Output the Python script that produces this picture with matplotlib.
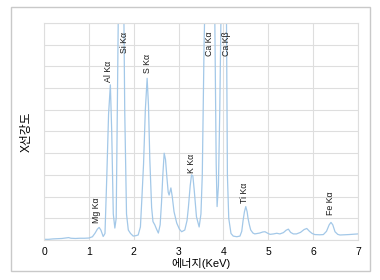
import matplotlib
matplotlib.use("Agg")
import matplotlib.pyplot as plt
from matplotlib.patches import Rectangle

plt.rcParams['font.family'] = ['Liberation Sans', 'Noto Sans CJK KR', 'DejaVu Sans']

# 스펙트럼 (에너지 keV, 강도 0~100 눈금 기준, 화면 밖 피크는 100 이상)
energy = [0.00, 0.10, 0.20, 0.30, 0.40, 0.50, 0.55, 0.60, 0.70, 0.80, 0.90, 1.00,
          1.08, 1.14, 1.19, 1.23, 1.27, 1.32, 1.36, 1.40, 1.44, 1.48, 1.51, 1.545,
          1.58, 1.61, 1.64, 1.67, 1.72, 1.77, 1.80, 1.84, 1.88, 1.93, 1.99, 2.05,
          2.10, 2.15, 2.18, 2.22, 2.26, 2.30, 2.33, 2.36, 2.40, 2.43, 2.47, 2.51,
          2.55, 2.59, 2.62, 2.65, 2.68, 2.71, 2.74, 2.77, 2.79, 2.83, 2.86, 2.90,
          2.96, 3.02, 3.07, 3.14, 3.19, 3.22, 3.26, 3.29, 3.32, 3.35, 3.40, 3.46,
          3.50, 3.53, 3.57, 3.62, 3.69, 3.76, 3.81, 3.84, 3.86, 3.89, 3.92, 3.95,
          4.01, 4.07, 4.09, 4.12, 4.17, 4.22, 4.30, 4.37, 4.41, 4.44, 4.47, 4.50,
          4.53, 4.55, 4.58, 4.61, 4.66, 4.70, 4.81, 4.88, 4.93, 4.98, 5.04, 5.12,
          5.19, 5.26, 5.34, 5.40, 5.45, 5.50, 5.56, 5.63, 5.72, 5.80, 5.86, 5.92,
          5.98, 6.04, 6.15, 6.23, 6.30, 6.36, 6.40, 6.44, 6.49, 6.55, 6.60, 6.80,
          7.00]
intensity = [0.3, 0.3, 0.5, 0.6, 0.7, 1.0, 1.1, 0.8, 0.7, 0.8, 0.8, 0.9,
             1.5, 3.2, 5.0, 5.8, 4.5, 1.6, 3.0, 29, 58, 71.5, 50, 12,
             5.5, 10, 70, 130, 160, 130, 60, 12, 4.6, 3.0, 1.8, 2.0,
             2.3, 6, 18, 35, 60, 74.5, 62, 37, 15, 8.5, 7, 5,
             3.2, 7, 17, 30, 40, 37, 29, 22, 20.7, 24, 20, 13,
             7.8, 5, 3.8, 4.6, 9, 15, 25, 30, 29.5, 23, 10.7, 6,
             12, 30, 90, 140, 160, 140, 100, 35, 15.4, 25, 60, 110,
             150, 100, 30, 10, 3, 1.8, 1.5, 1.8, 4, 9, 13, 15.4,
             13, 10, 7, 4.6, 3.2, 2.8, 3.2, 3.7, 3.8, 3.2, 2.6, 2.8,
             3.1, 2.8, 3.4, 4.5, 5.0, 3.5, 2.8, 2.8, 3.5, 4.8, 5.3, 4.0,
             3.0, 2.5, 2.4, 2.5, 4, 7, 8.1, 7, 3.8, 2.6, 2.3, 2.5,
             2.8]

# 원소 라벨
peak_labels = ['Mg Kα', 'Al Kα', 'Si Kα', 'S Kα', 'K Kα', 'Ca Kα', 'Ca Kβ', 'Ti Kα', 'Fe Kα']
label_x = [1.18, 1.43, 1.79, 2.31, 3.30, 3.68, 4.08, 4.48, 6.40]
label_y = [7.8, 72.8, 86, 77, 31, 85, 85, 17, 11.5]

fig = plt.figure(figsize=(3.8, 2.8), dpi=100)

# 바깥 테두리
fig.patches.append(Rectangle((0.029, 0.032), 0.945, 0.943, transform=fig.transFigure,
                             fill=False, edgecolor='#c9c9c9', linewidth=1.0))

ax = fig.add_axes([0.1158, 0.1429, 0.826, 0.775])
ax.plot(energy, intensity, color='#a3c8e8', linewidth=0.9, clip_on=True)

ax.set_xlim(0, 7)
ax.set_ylim(0, 100)
ax.set_xticks(range(0, 8))
ax.set_yticks(range(0, 101, 10))
ax.set_yticklabels([])
ax.tick_params(length=0, labelsize=7.5, pad=5)
ax.grid(True, color='#dedede', linewidth=0.8)
for s in ax.spines.values():
    s.set_color('#dedede')
    s.set_linewidth(0.8)

for t, x, y in zip(peak_labels, label_x, label_y):
    ax.text(x, y, t, rotation=90, ha='center', va='bottom', fontsize=6.3, color='#1a1a1a')

ax.set_xlabel('에너지(KeV)', fontsize=8, labelpad=1)
ax.set_ylabel('X선강도', fontsize=8.5, labelpad=3)

fig.savefig('out.png', dpi=100)
